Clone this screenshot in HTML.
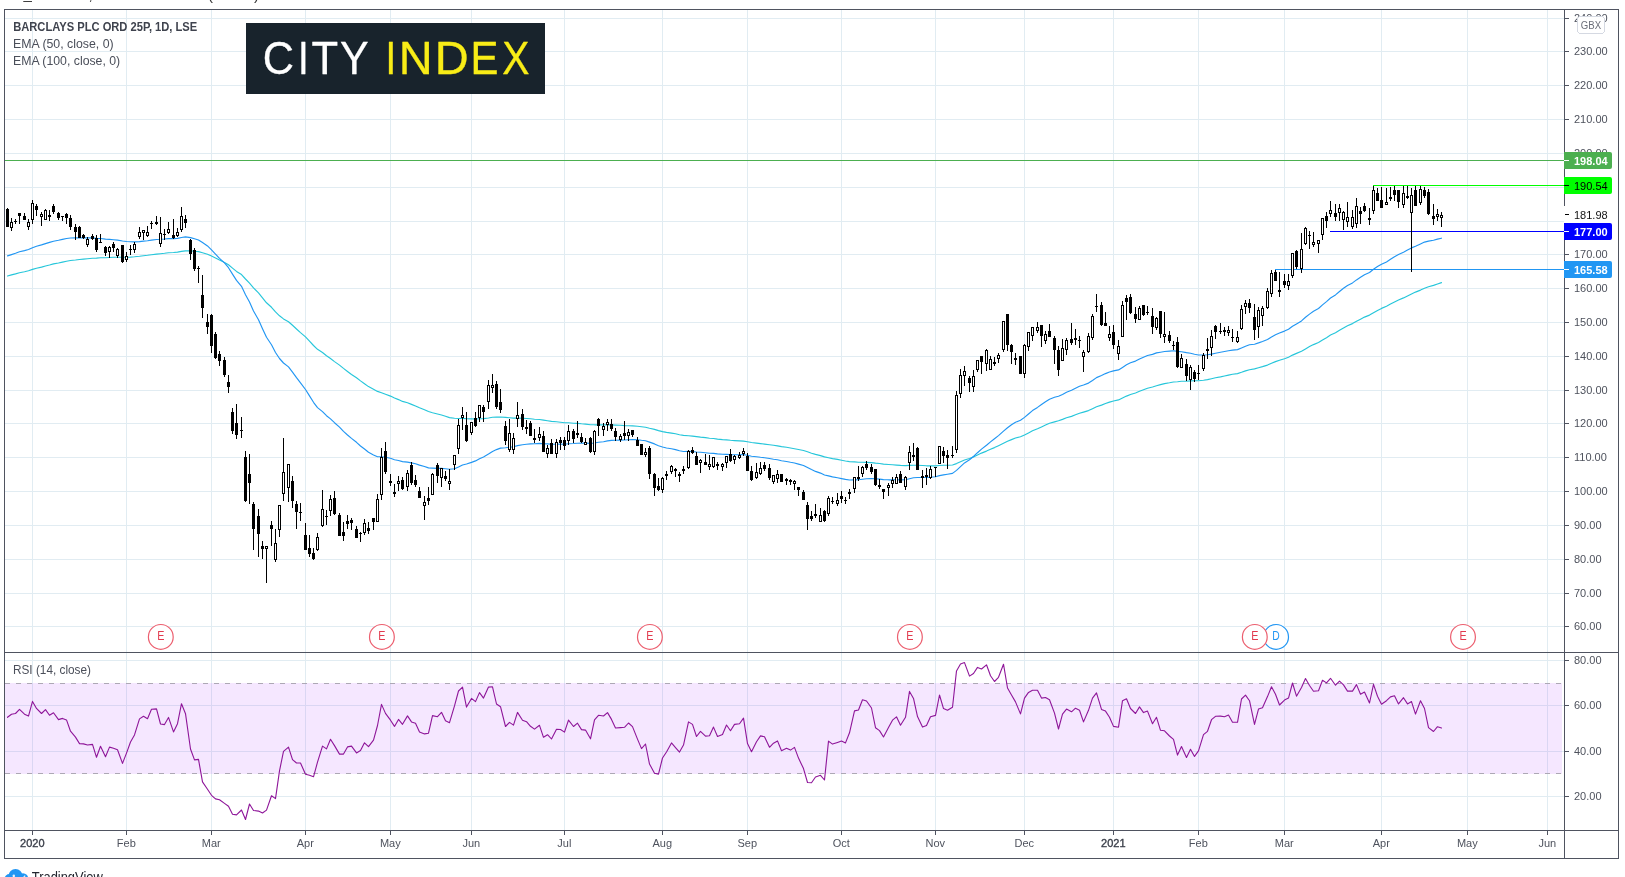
<!DOCTYPE html>
<html><head><meta charset="utf-8"><title>BARCLAYS PLC ORD 25P chart</title>
<style>html,body{margin:0;padding:0;background:#fff;}body{width:1625px;height:877px;overflow:hidden;font-family:"Liberation Sans", sans-serif;}svg{display:block;will-change:transform}rect{shape-rendering:crispEdges}</style>
</head><body>
<svg width="1625" height="877" viewBox="0 0 1625 877" font-family='"Liberation Sans", sans-serif' shape-rendering="auto"><rect x="0" y="0" width="1625" height="877" fill="#fff"/>
<rect x="32" y="10" width="1" height="820" fill="#E1ECF2"/>
<rect x="126" y="10" width="1" height="820" fill="#E1ECF2"/>
<rect x="211" y="10" width="1" height="820" fill="#E1ECF2"/>
<rect x="305" y="10" width="1" height="820" fill="#E1ECF2"/>
<rect x="390" y="10" width="1" height="820" fill="#E1ECF2"/>
<rect x="471" y="10" width="1" height="820" fill="#E1ECF2"/>
<rect x="564" y="10" width="1" height="820" fill="#E1ECF2"/>
<rect x="662" y="10" width="1" height="820" fill="#E1ECF2"/>
<rect x="747" y="10" width="1" height="820" fill="#E1ECF2"/>
<rect x="841" y="10" width="1" height="820" fill="#E1ECF2"/>
<rect x="935" y="10" width="1" height="820" fill="#E1ECF2"/>
<rect x="1024" y="10" width="1" height="820" fill="#E1ECF2"/>
<rect x="1113" y="10" width="1" height="820" fill="#E1ECF2"/>
<rect x="1198" y="10" width="1" height="820" fill="#E1ECF2"/>
<rect x="1284" y="10" width="1" height="820" fill="#E1ECF2"/>
<rect x="1381" y="10" width="1" height="820" fill="#E1ECF2"/>
<rect x="1467" y="10" width="1" height="820" fill="#E1ECF2"/>
<rect x="1547" y="10" width="1" height="820" fill="#E1ECF2"/>
<rect x="5" y="18" width="1559" height="1" fill="#E1ECF2"/>
<rect x="5" y="51" width="1559" height="1" fill="#E1ECF2"/>
<rect x="5" y="85" width="1559" height="1" fill="#E1ECF2"/>
<rect x="5" y="119" width="1559" height="1" fill="#E1ECF2"/>
<rect x="5" y="153" width="1559" height="1" fill="#E1ECF2"/>
<rect x="5" y="187" width="1559" height="1" fill="#E1ECF2"/>
<rect x="5" y="221" width="1559" height="1" fill="#E1ECF2"/>
<rect x="5" y="254" width="1559" height="1" fill="#E1ECF2"/>
<rect x="5" y="288" width="1559" height="1" fill="#E1ECF2"/>
<rect x="5" y="322" width="1559" height="1" fill="#E1ECF2"/>
<rect x="5" y="356" width="1559" height="1" fill="#E1ECF2"/>
<rect x="5" y="390" width="1559" height="1" fill="#E1ECF2"/>
<rect x="5" y="423" width="1559" height="1" fill="#E1ECF2"/>
<rect x="5" y="457" width="1559" height="1" fill="#E1ECF2"/>
<rect x="5" y="491" width="1559" height="1" fill="#E1ECF2"/>
<rect x="5" y="525" width="1559" height="1" fill="#E1ECF2"/>
<rect x="5" y="559" width="1559" height="1" fill="#E1ECF2"/>
<rect x="5" y="593" width="1559" height="1" fill="#E1ECF2"/>
<rect x="5" y="626" width="1559" height="1" fill="#E1ECF2"/>
<rect x="5" y="660" width="1559" height="1" fill="#E1ECF2"/>
<rect x="5" y="705" width="1559" height="1" fill="#E1ECF2"/>
<rect x="5" y="751" width="1559" height="1" fill="#E1ECF2"/>
<rect x="5" y="796" width="1559" height="1" fill="#E1ECF2"/>
<rect x="5" y="683" width="1557" height="91" fill="#9915FF" fill-opacity="0.1"/>
<line x1="5" y1="683.5" x2="1562" y2="683.5" stroke="#ADA8B5" stroke-width="1" stroke-dasharray="5,6" shape-rendering="crispEdges"/>
<line x1="5" y1="773.5" x2="1562" y2="773.5" stroke="#ADA8B5" stroke-width="1" stroke-dasharray="5,6" shape-rendering="crispEdges"/>
<rect x="246" y="23" width="299" height="70.5" fill="#18232C"/>
<rect x="5" y="160" width="1559" height="1" fill="#4CAF50"/>
<rect x="1373" y="185" width="191" height="1" fill="#00FF00"/>
<rect x="1330" y="231" width="234" height="1" fill="#0000FF"/>
<rect x="1275" y="269" width="289" height="1" fill="#2196F3"/>
<polyline points="7.5,276.0 11.5,274.9 15.5,273.9 19.5,272.7 24.5,271.7 28.5,270.7 32.5,269.4 36.5,268.2 41.5,267.1 45.5,266.0 49.5,265.0 53.5,263.9 58.5,263.0 62.5,262.1 66.5,261.2 70.5,260.5 75.5,260.0 79.5,259.5 83.5,259.1 87.5,258.7 92.5,258.3 96.5,258.1 100.5,257.8 105.5,257.7 109.5,257.5 113.5,257.3 117.5,257.2 122.5,257.3 126.5,257.2 130.5,257.1 134.5,256.8 139.5,256.3 143.5,255.8 147.5,255.3 151.5,254.7 156.5,254.1 160.5,253.7 164.5,253.3 168.5,252.8 173.5,252.5 177.5,252.1 181.5,251.4 185.5,250.9 190.5,250.9 194.5,251.3 198.5,251.6 202.5,252.7 207.5,254.2 211.5,256.0 215.5,258.0 219.5,260.1 224.5,262.4 228.5,264.8 232.5,268.1 236.5,271.4 241.5,274.6 245.5,279.0 249.5,283.1 253.5,287.9 258.5,292.8 262.5,297.9 266.5,302.8 271.5,307.3 275.5,311.9 279.5,315.8 283.5,318.9 288.5,321.7 292.5,325.3 296.5,329.0 300.5,332.6 305.5,336.9 309.5,341.2 313.5,345.5 317.5,349.3 322.5,352.5 326.5,355.7 330.5,358.5 334.5,361.6 339.5,365.1 343.5,368.4 347.5,371.5 351.5,374.5 356.5,377.8 360.5,380.9 364.5,383.7 368.5,386.6 373.5,389.3 377.5,391.4 381.5,392.8 385.5,394.3 390.5,396.1 394.5,398.0 398.5,399.6 402.5,401.4 407.5,402.8 411.5,404.4 415.5,406.0 419.5,407.8 424.5,409.7 428.5,411.5 432.5,412.7 437.5,414.0 441.5,415.0 445.5,416.3 449.5,417.6 454.5,418.3 458.5,418.5 462.5,418.4 466.5,418.8 471.5,418.9 475.5,419.0 479.5,418.8 483.5,418.6 488.5,418.0 492.5,417.3 496.5,417.1 500.5,417.0 505.5,417.4 509.5,417.7 513.5,418.1 517.5,418.1 522.5,418.2 526.5,418.5 530.5,418.8 534.5,419.2 539.5,419.5 543.5,420.1 547.5,420.7 551.5,421.4 556.5,421.8 560.5,422.2 564.5,422.7 568.5,422.8 573.5,423.2 577.5,423.4 581.5,423.8 585.5,424.1 590.5,424.7 594.5,424.8 598.5,424.8 603.5,424.9 607.5,424.8 611.5,424.9 615.5,425.1 620.5,425.3 624.5,425.6 628.5,425.7 632.5,425.9 637.5,426.3 641.5,426.8 645.5,427.3 649.5,428.3 654.5,429.4 658.5,430.6 662.5,431.6 666.5,432.4 671.5,433.1 675.5,433.8 679.5,434.7 683.5,435.4 688.5,435.7 692.5,436.1 696.5,436.6 700.5,437.1 705.5,437.6 709.5,438.2 713.5,438.5 717.5,439.1 722.5,439.6 726.5,439.9 730.5,440.3 734.5,440.6 739.5,440.9 743.5,441.1 747.5,441.7 751.5,442.5 756.5,443.1 760.5,443.6 764.5,444.1 769.5,444.7 773.5,445.3 777.5,445.9 781.5,446.6 786.5,447.3 790.5,448.0 794.5,448.7 798.5,449.5 803.5,450.5 807.5,451.8 811.5,453.2 815.5,454.4 820.5,455.6 824.5,456.9 828.5,457.7 832.5,458.6 837.5,459.4 841.5,460.2 845.5,461.0 849.5,461.6 854.5,461.9 858.5,462.2 862.5,462.3 866.5,462.4 871.5,462.6 875.5,463.1 879.5,463.5 883.5,464.1 888.5,464.5 892.5,464.8 896.5,465.1 900.5,465.4 905.5,465.6 909.5,465.4 913.5,465.2 917.5,465.3 922.5,465.5 926.5,465.8 930.5,465.8 935.5,465.9 939.5,465.5 943.5,465.3 947.5,465.2 952.5,465.0 956.5,463.6 960.5,461.8 964.5,460.0 969.5,458.5 973.5,456.9 977.5,455.0 981.5,453.1 986.5,451.1 990.5,449.3 994.5,447.6 998.5,445.7 1003.5,443.3 1007.5,441.3 1011.5,439.6 1015.5,438.0 1020.5,436.7 1024.5,434.9 1028.5,432.9 1032.5,430.8 1037.5,428.7 1041.5,426.9 1045.5,425.1 1049.5,423.3 1054.5,421.9 1058.5,420.8 1062.5,419.4 1066.5,417.8 1071.5,416.4 1075.5,414.8 1079.5,413.3 1083.5,412.1 1088.5,410.6 1092.5,408.7 1096.5,406.7 1101.5,405.1 1105.5,403.5 1109.5,402.1 1113.5,401.0 1118.5,399.9 1122.5,398.0 1126.5,396.1 1130.5,394.5 1135.5,393.0 1139.5,391.3 1143.5,389.8 1147.5,388.2 1152.5,387.0 1156.5,385.7 1160.5,384.6 1164.5,383.6 1169.5,382.8 1173.5,382.0 1177.5,381.7 1181.5,381.3 1186.5,381.2 1190.5,380.9 1194.5,380.8 1198.5,380.7 1203.5,380.2 1207.5,379.6 1211.5,378.7 1215.5,377.8 1220.5,376.9 1224.5,376.0 1228.5,375.1 1232.5,374.3 1237.5,373.6 1241.5,372.3 1245.5,370.9 1249.5,369.7 1254.5,368.9 1258.5,367.7 1262.5,366.6 1267.5,365.1 1271.5,363.2 1275.5,361.6 1279.5,360.2 1284.5,358.7 1288.5,357.2 1292.5,355.1 1296.5,353.4 1301.5,351.3 1305.5,348.9 1309.5,346.6 1313.5,344.6 1318.5,342.5 1322.5,340.0 1326.5,337.7 1330.5,335.1 1335.5,332.8 1339.5,330.3 1343.5,328.0 1347.5,325.8 1352.5,323.6 1356.5,321.3 1360.5,319.2 1364.5,317.1 1369.5,315.1 1373.5,312.7 1377.5,310.4 1381.5,308.4 1386.5,306.3 1390.5,304.1 1394.5,302.0 1398.5,300.0 1403.5,297.9 1407.5,295.9 1411.5,293.9 1415.5,292.1 1420.5,290.1 1424.5,288.2 1428.5,286.8 1433.5,285.4 1437.5,284.0 1441.5,282.6" fill="none" stroke="#26C6DA" stroke-width="1.15" stroke-linejoin="round" stroke-linecap="round"/>
<polyline points="7.5,255.9 11.5,254.6 15.5,253.3 19.5,251.8 24.5,250.6 28.5,249.5 32.5,247.7 36.5,246.2 41.5,244.9 45.5,243.6 49.5,242.4 53.5,241.2 58.5,240.3 62.5,239.4 66.5,238.5 70.5,238.0 75.5,237.8 79.5,237.8 83.5,237.8 87.5,237.9 92.5,237.9 96.5,238.4 100.5,238.5 105.5,239.1 109.5,239.4 113.5,239.7 117.5,240.1 122.5,241.0 126.5,241.5 130.5,241.8 134.5,241.9 139.5,241.6 143.5,241.1 147.5,240.8 151.5,240.1 156.5,239.5 160.5,239.3 164.5,239.0 168.5,238.6 173.5,238.6 177.5,238.4 181.5,237.5 185.5,236.9 190.5,237.6 194.5,238.8 198.5,240.0 202.5,242.6 207.5,245.9 211.5,249.8 215.5,254.1 219.5,258.3 224.5,262.9 228.5,267.7 232.5,274.1 236.5,280.4 241.5,286.3 245.5,294.7 249.5,302.1 253.5,311.0 258.5,319.7 262.5,328.7 266.5,337.2 271.5,344.7 275.5,352.5 279.5,358.5 283.5,363.0 288.5,366.9 292.5,372.2 296.5,377.7 300.5,382.9 305.5,389.5 309.5,395.9 313.5,402.3 317.5,407.6 322.5,411.6 326.5,415.7 330.5,418.9 334.5,422.7 339.5,427.1 343.5,431.4 347.5,435.0 351.5,438.4 356.5,442.3 360.5,446.0 364.5,449.0 368.5,452.2 373.5,454.9 377.5,456.7 381.5,456.7 385.5,457.3 390.5,458.3 394.5,459.7 398.5,460.5 402.5,461.6 407.5,462.1 411.5,462.9 415.5,463.7 419.5,465.1 424.5,466.5 428.5,467.9 432.5,468.1 437.5,468.4 441.5,468.4 445.5,468.8 449.5,469.3 454.5,468.7 458.5,467.0 462.5,465.0 466.5,464.0 471.5,462.4 475.5,460.9 479.5,458.7 483.5,456.9 488.5,454.1 492.5,451.4 496.5,449.6 500.5,448.1 505.5,447.8 509.5,447.2 513.5,446.8 517.5,445.6 522.5,444.8 526.5,444.2 530.5,443.9 534.5,443.7 539.5,443.4 543.5,443.7 547.5,443.9 551.5,444.3 556.5,444.2 560.5,444.1 564.5,444.2 568.5,443.7 573.5,443.5 577.5,443.2 581.5,443.1 585.5,443.1 590.5,443.4 594.5,443.0 598.5,442.3 603.5,441.7 607.5,440.9 611.5,440.4 615.5,440.3 620.5,440.1 624.5,440.0 628.5,439.7 632.5,439.5 637.5,439.7 641.5,440.3 645.5,440.8 649.5,442.1 654.5,443.9 658.5,445.7 662.5,447.0 666.5,448.0 671.5,448.7 675.5,449.6 679.5,450.7 683.5,451.5 688.5,451.4 692.5,451.5 696.5,452.0 700.5,452.3 705.5,452.8 709.5,453.3 713.5,453.4 717.5,453.9 722.5,454.3 726.5,454.4 730.5,454.6 734.5,454.7 739.5,454.7 743.5,454.6 747.5,455.2 751.5,456.2 756.5,456.8 760.5,457.3 764.5,457.7 769.5,458.5 773.5,459.2 777.5,459.8 781.5,460.7 786.5,461.5 790.5,462.3 794.5,463.0 798.5,464.1 803.5,465.5 807.5,467.6 811.5,469.6 815.5,471.4 820.5,473.1 824.5,475.0 828.5,475.9 832.5,476.9 837.5,477.8 841.5,478.6 845.5,479.4 849.5,480.0 854.5,479.9 858.5,479.8 862.5,479.3 866.5,478.8 871.5,478.6 875.5,478.8 879.5,479.1 883.5,479.6 888.5,479.8 892.5,479.8 896.5,479.7 900.5,479.9 905.5,479.7 909.5,478.7 913.5,477.8 917.5,477.5 922.5,477.5 926.5,477.5 930.5,477.2 935.5,476.8 939.5,475.6 943.5,474.9 947.5,474.2 952.5,473.4 956.5,470.4 960.5,466.6 964.5,462.9 969.5,459.7 973.5,456.5 977.5,452.7 981.5,449.1 986.5,445.3 990.5,441.9 994.5,438.8 998.5,435.6 1003.5,431.1 1007.5,427.7 1011.5,424.7 1015.5,422.2 1020.5,420.3 1024.5,417.4 1028.5,414.0 1032.5,410.6 1037.5,407.4 1041.5,404.5 1045.5,401.8 1049.5,399.2 1054.5,397.3 1058.5,396.2 1062.5,394.4 1066.5,392.2 1071.5,390.3 1075.5,388.2 1079.5,386.3 1083.5,385.0 1088.5,383.1 1092.5,380.5 1096.5,377.6 1101.5,375.5 1105.5,373.6 1109.5,372.0 1113.5,370.9 1118.5,369.9 1122.5,367.4 1126.5,364.8 1130.5,362.8 1135.5,361.1 1139.5,359.0 1143.5,357.2 1147.5,355.5 1152.5,354.4 1156.5,352.9 1160.5,352.2 1164.5,351.5 1169.5,351.1 1173.5,350.8 1177.5,351.4 1181.5,351.7 1186.5,352.6 1190.5,353.2 1194.5,354.2 1198.5,355.0 1203.5,355.0 1207.5,354.8 1211.5,354.1 1215.5,353.2 1220.5,352.3 1224.5,351.5 1228.5,350.7 1232.5,350.1 1237.5,349.6 1241.5,348.0 1245.5,346.3 1249.5,344.8 1254.5,344.2 1258.5,342.9 1262.5,341.5 1267.5,339.5 1271.5,336.9 1275.5,334.7 1279.5,333.0 1284.5,331.1 1288.5,329.2 1292.5,326.2 1296.5,323.9 1301.5,320.9 1305.5,317.3 1309.5,314.1 1313.5,311.2 1318.5,308.5 1322.5,304.9 1326.5,301.6 1330.5,298.0 1335.5,294.9 1339.5,291.5 1343.5,288.3 1347.5,285.5 1352.5,282.9 1356.5,279.9 1360.5,277.3 1364.5,274.7 1369.5,272.5 1373.5,269.3 1377.5,266.6 1381.5,264.3 1386.5,261.9 1390.5,259.3 1394.5,256.8 1398.5,254.6 1403.5,252.2 1407.5,250.1 1411.5,247.9 1415.5,246.3 1420.5,244.0 1424.5,242.1 1428.5,241.1 1433.5,240.2 1437.5,239.1 1441.5,238.2" fill="none" stroke="#2196F3" stroke-width="1.15" stroke-linejoin="round" stroke-linecap="round"/>
<rect x="7" y="208" width="1" height="19" fill="#000"/>
<rect x="6" y="209" width="3" height="18" fill="#000"/>
<rect x="11" y="218" width="1" height="13" fill="#000"/>
<rect x="10" y="222" width="3" height="6" fill="#000"/>
<rect x="11" y="223" width="1" height="4" fill="#fff"/>
<rect x="15" y="219" width="1" height="5" fill="#000"/>
<rect x="14" y="221" width="3" height="1" fill="#000"/>
<rect x="19" y="213" width="1" height="11" fill="#000"/>
<rect x="18" y="213" width="3" height="3" fill="#000"/>
<rect x="24" y="213" width="1" height="7" fill="#000"/>
<rect x="23" y="216" width="3" height="4" fill="#000"/>
<rect x="28" y="219" width="1" height="11" fill="#000"/>
<rect x="27" y="222" width="3" height="5" fill="#000"/>
<rect x="28" y="223" width="1" height="3" fill="#fff"/>
<rect x="32" y="200" width="1" height="24" fill="#000"/>
<rect x="31" y="203" width="3" height="17" fill="#000"/>
<rect x="32" y="204" width="1" height="15" fill="#fff"/>
<rect x="36" y="204" width="1" height="12" fill="#000"/>
<rect x="35" y="206" width="3" height="4" fill="#000"/>
<rect x="41" y="212" width="1" height="14" fill="#000"/>
<rect x="40" y="214" width="3" height="3" fill="#000"/>
<rect x="41" y="215" width="1" height="1" fill="#fff"/>
<rect x="45" y="209" width="1" height="11" fill="#000"/>
<rect x="44" y="210" width="3" height="10" fill="#000"/>
<rect x="45" y="211" width="1" height="8" fill="#fff"/>
<rect x="49" y="210" width="1" height="11" fill="#000"/>
<rect x="48" y="215" width="3" height="2" fill="#000"/>
<rect x="53" y="204" width="1" height="10" fill="#000"/>
<rect x="52" y="206" width="3" height="6" fill="#000"/>
<rect x="58" y="212" width="1" height="8" fill="#000"/>
<rect x="57" y="213" width="3" height="5" fill="#000"/>
<rect x="62" y="216" width="1" height="5" fill="#000"/>
<rect x="61" y="216" width="3" height="1" fill="#000"/>
<rect x="66" y="213" width="1" height="11" fill="#000"/>
<rect x="65" y="214" width="3" height="4" fill="#000"/>
<rect x="70" y="215" width="1" height="15" fill="#000"/>
<rect x="69" y="218" width="3" height="9" fill="#000"/>
<rect x="75" y="224" width="1" height="16" fill="#000"/>
<rect x="74" y="227" width="3" height="5" fill="#000"/>
<rect x="79" y="226" width="1" height="12" fill="#000"/>
<rect x="78" y="227" width="3" height="11" fill="#000"/>
<rect x="83" y="234" width="1" height="5" fill="#000"/>
<rect x="82" y="235" width="3" height="3" fill="#000"/>
<rect x="87" y="237" width="1" height="10" fill="#000"/>
<rect x="86" y="239" width="3" height="6" fill="#000"/>
<rect x="87" y="240" width="1" height="4" fill="#fff"/>
<rect x="92" y="234" width="1" height="6" fill="#000"/>
<rect x="91" y="236" width="3" height="3" fill="#000"/>
<rect x="96" y="235" width="1" height="17" fill="#000"/>
<rect x="95" y="238" width="3" height="12" fill="#000"/>
<rect x="100" y="234" width="1" height="9" fill="#000"/>
<rect x="99" y="242" width="3" height="1" fill="#000"/>
<rect x="105" y="246" width="1" height="10" fill="#000"/>
<rect x="104" y="247" width="3" height="6" fill="#000"/>
<rect x="109" y="246" width="1" height="12" fill="#000"/>
<rect x="108" y="247" width="3" height="5" fill="#000"/>
<rect x="109" y="248" width="1" height="3" fill="#fff"/>
<rect x="113" y="242" width="1" height="10" fill="#000"/>
<rect x="112" y="244" width="3" height="4" fill="#000"/>
<rect x="117" y="248" width="1" height="10" fill="#000"/>
<rect x="116" y="249" width="3" height="7" fill="#000"/>
<rect x="117" y="250" width="1" height="5" fill="#fff"/>
<rect x="122" y="245" width="1" height="18" fill="#000"/>
<rect x="121" y="245" width="3" height="17" fill="#000"/>
<rect x="126" y="252" width="1" height="10" fill="#000"/>
<rect x="125" y="256" width="3" height="4" fill="#000"/>
<rect x="126" y="257" width="1" height="2" fill="#fff"/>
<rect x="130" y="245" width="1" height="10" fill="#000"/>
<rect x="129" y="249" width="3" height="1" fill="#000"/>
<rect x="134" y="242" width="1" height="11" fill="#000"/>
<rect x="133" y="244" width="3" height="6" fill="#000"/>
<rect x="134" y="245" width="1" height="4" fill="#fff"/>
<rect x="139" y="227" width="1" height="12" fill="#000"/>
<rect x="138" y="232" width="3" height="5" fill="#000"/>
<rect x="139" y="233" width="1" height="3" fill="#fff"/>
<rect x="143" y="230" width="1" height="10" fill="#000"/>
<rect x="142" y="230" width="3" height="3" fill="#000"/>
<rect x="143" y="231" width="1" height="1" fill="#fff"/>
<rect x="147" y="226" width="1" height="11" fill="#000"/>
<rect x="146" y="232" width="3" height="4" fill="#000"/>
<rect x="147" y="233" width="1" height="2" fill="#fff"/>
<rect x="151" y="221" width="1" height="8" fill="#000"/>
<rect x="150" y="223" width="3" height="1" fill="#000"/>
<rect x="156" y="216" width="1" height="9" fill="#000"/>
<rect x="155" y="222" width="3" height="2" fill="#000"/>
<rect x="160" y="217" width="1" height="30" fill="#000"/>
<rect x="159" y="233" width="3" height="11" fill="#000"/>
<rect x="160" y="234" width="1" height="9" fill="#fff"/>
<rect x="164" y="229" width="1" height="11" fill="#000"/>
<rect x="163" y="234" width="3" height="1" fill="#000"/>
<rect x="168" y="222" width="1" height="12" fill="#000"/>
<rect x="167" y="229" width="3" height="4" fill="#000"/>
<rect x="168" y="230" width="1" height="2" fill="#fff"/>
<rect x="173" y="219" width="1" height="20" fill="#000"/>
<rect x="172" y="235" width="3" height="3" fill="#000"/>
<rect x="177" y="228" width="1" height="9" fill="#000"/>
<rect x="176" y="232" width="3" height="4" fill="#000"/>
<rect x="177" y="233" width="1" height="2" fill="#fff"/>
<rect x="181" y="207" width="1" height="25" fill="#000"/>
<rect x="180" y="216" width="3" height="14" fill="#000"/>
<rect x="181" y="217" width="1" height="12" fill="#fff"/>
<rect x="185" y="215" width="1" height="13" fill="#000"/>
<rect x="184" y="219" width="3" height="4" fill="#000"/>
<rect x="190" y="239" width="1" height="21" fill="#000"/>
<rect x="189" y="240" width="3" height="14" fill="#000"/>
<rect x="194" y="248" width="1" height="23" fill="#000"/>
<rect x="193" y="250" width="3" height="19" fill="#000"/>
<rect x="198" y="266" width="1" height="17" fill="#000"/>
<rect x="197" y="268" width="3" height="1" fill="#000"/>
<rect x="202" y="275" width="1" height="43" fill="#000"/>
<rect x="201" y="295" width="3" height="13" fill="#000"/>
<rect x="207" y="314" width="1" height="20" fill="#000"/>
<rect x="206" y="322" width="3" height="5" fill="#000"/>
<rect x="211" y="314" width="1" height="39" fill="#000"/>
<rect x="210" y="315" width="3" height="31" fill="#000"/>
<rect x="215" y="332" width="1" height="27" fill="#000"/>
<rect x="214" y="334" width="3" height="24" fill="#000"/>
<rect x="219" y="351" width="1" height="15" fill="#000"/>
<rect x="218" y="354" width="3" height="7" fill="#000"/>
<rect x="224" y="357" width="1" height="20" fill="#000"/>
<rect x="223" y="360" width="3" height="15" fill="#000"/>
<rect x="228" y="375" width="1" height="18" fill="#000"/>
<rect x="227" y="382" width="3" height="5" fill="#000"/>
<rect x="232" y="408" width="1" height="26" fill="#000"/>
<rect x="231" y="412" width="3" height="19" fill="#000"/>
<rect x="236" y="404" width="1" height="35" fill="#000"/>
<rect x="235" y="423" width="3" height="12" fill="#000"/>
<rect x="241" y="417" width="1" height="21" fill="#000"/>
<rect x="240" y="430" width="3" height="1" fill="#000"/>
<rect x="245" y="451" width="1" height="51" fill="#000"/>
<rect x="244" y="457" width="3" height="44" fill="#000"/>
<rect x="249" y="454" width="1" height="50" fill="#000"/>
<rect x="248" y="474" width="3" height="9" fill="#000"/>
<rect x="253" y="502" width="1" height="48" fill="#000"/>
<rect x="252" y="504" width="3" height="25" fill="#000"/>
<rect x="258" y="509" width="1" height="48" fill="#000"/>
<rect x="257" y="516" width="3" height="18" fill="#000"/>
<rect x="262" y="541" width="1" height="18" fill="#000"/>
<rect x="261" y="546" width="3" height="3" fill="#000"/>
<rect x="266" y="546" width="1" height="37" fill="#000"/>
<rect x="265" y="546" width="3" height="3" fill="#000"/>
<rect x="266" y="547" width="1" height="1" fill="#fff"/>
<rect x="271" y="521" width="1" height="25" fill="#000"/>
<rect x="270" y="525" width="3" height="4" fill="#000"/>
<rect x="275" y="529" width="1" height="33" fill="#000"/>
<rect x="274" y="543" width="3" height="17" fill="#000"/>
<rect x="275" y="544" width="1" height="15" fill="#fff"/>
<rect x="279" y="505" width="1" height="32" fill="#000"/>
<rect x="278" y="505" width="3" height="25" fill="#000"/>
<rect x="279" y="506" width="1" height="23" fill="#fff"/>
<rect x="283" y="438" width="1" height="63" fill="#000"/>
<rect x="282" y="472" width="3" height="22" fill="#000"/>
<rect x="283" y="473" width="1" height="20" fill="#fff"/>
<rect x="288" y="464" width="1" height="38" fill="#000"/>
<rect x="287" y="464" width="3" height="24" fill="#000"/>
<rect x="288" y="465" width="1" height="22" fill="#fff"/>
<rect x="292" y="476" width="1" height="32" fill="#000"/>
<rect x="291" y="481" width="3" height="20" fill="#000"/>
<rect x="296" y="501" width="1" height="28" fill="#000"/>
<rect x="295" y="504" width="3" height="8" fill="#000"/>
<rect x="300" y="503" width="1" height="18" fill="#000"/>
<rect x="299" y="512" width="3" height="1" fill="#000"/>
<rect x="305" y="523" width="1" height="27" fill="#000"/>
<rect x="304" y="535" width="3" height="15" fill="#000"/>
<rect x="309" y="535" width="1" height="22" fill="#000"/>
<rect x="308" y="548" width="3" height="6" fill="#000"/>
<rect x="313" y="548" width="1" height="12" fill="#000"/>
<rect x="312" y="553" width="3" height="6" fill="#000"/>
<rect x="317" y="533" width="1" height="18" fill="#000"/>
<rect x="316" y="537" width="3" height="13" fill="#000"/>
<rect x="317" y="538" width="1" height="11" fill="#fff"/>
<rect x="322" y="490" width="1" height="37" fill="#000"/>
<rect x="321" y="509" width="3" height="17" fill="#000"/>
<rect x="322" y="510" width="1" height="15" fill="#fff"/>
<rect x="326" y="510" width="1" height="15" fill="#000"/>
<rect x="325" y="516" width="3" height="1" fill="#000"/>
<rect x="330" y="495" width="1" height="21" fill="#000"/>
<rect x="329" y="499" width="3" height="12" fill="#000"/>
<rect x="330" y="500" width="1" height="10" fill="#fff"/>
<rect x="334" y="491" width="1" height="24" fill="#000"/>
<rect x="333" y="498" width="3" height="16" fill="#000"/>
<rect x="339" y="513" width="1" height="23" fill="#000"/>
<rect x="338" y="515" width="3" height="21" fill="#000"/>
<rect x="343" y="522" width="1" height="19" fill="#000"/>
<rect x="342" y="532" width="3" height="4" fill="#000"/>
<rect x="347" y="515" width="1" height="14" fill="#000"/>
<rect x="346" y="521" width="3" height="3" fill="#000"/>
<rect x="351" y="518" width="1" height="12" fill="#000"/>
<rect x="350" y="520" width="3" height="3" fill="#000"/>
<rect x="356" y="526" width="1" height="12" fill="#000"/>
<rect x="355" y="529" width="3" height="9" fill="#000"/>
<rect x="360" y="532" width="1" height="10" fill="#000"/>
<rect x="359" y="533" width="3" height="1" fill="#000"/>
<rect x="364" y="519" width="1" height="16" fill="#000"/>
<rect x="363" y="523" width="3" height="10" fill="#000"/>
<rect x="364" y="524" width="1" height="8" fill="#fff"/>
<rect x="368" y="522" width="1" height="12" fill="#000"/>
<rect x="367" y="528" width="3" height="3" fill="#000"/>
<rect x="373" y="518" width="1" height="12" fill="#000"/>
<rect x="372" y="518" width="3" height="4" fill="#000"/>
<rect x="377" y="494" width="1" height="28" fill="#000"/>
<rect x="376" y="499" width="3" height="23" fill="#000"/>
<rect x="377" y="500" width="1" height="21" fill="#fff"/>
<rect x="381" y="448" width="1" height="52" fill="#000"/>
<rect x="380" y="457" width="3" height="38" fill="#000"/>
<rect x="381" y="458" width="1" height="36" fill="#fff"/>
<rect x="385" y="442" width="1" height="32" fill="#000"/>
<rect x="384" y="451" width="3" height="21" fill="#000"/>
<rect x="390" y="474" width="1" height="12" fill="#000"/>
<rect x="389" y="481" width="3" height="2" fill="#000"/>
<rect x="394" y="484" width="1" height="13" fill="#000"/>
<rect x="393" y="492" width="3" height="2" fill="#000"/>
<rect x="398" y="476" width="1" height="15" fill="#000"/>
<rect x="397" y="481" width="3" height="3" fill="#000"/>
<rect x="398" y="482" width="1" height="1" fill="#fff"/>
<rect x="402" y="477" width="1" height="13" fill="#000"/>
<rect x="401" y="480" width="3" height="9" fill="#000"/>
<rect x="407" y="470" width="1" height="21" fill="#000"/>
<rect x="406" y="473" width="3" height="14" fill="#000"/>
<rect x="407" y="474" width="1" height="12" fill="#fff"/>
<rect x="411" y="462" width="1" height="23" fill="#000"/>
<rect x="410" y="465" width="3" height="18" fill="#000"/>
<rect x="415" y="475" width="1" height="12" fill="#000"/>
<rect x="414" y="480" width="3" height="5" fill="#000"/>
<rect x="419" y="487" width="1" height="11" fill="#000"/>
<rect x="418" y="491" width="3" height="7" fill="#000"/>
<rect x="424" y="496" width="1" height="24" fill="#000"/>
<rect x="423" y="502" width="3" height="4" fill="#000"/>
<rect x="424" y="503" width="1" height="2" fill="#fff"/>
<rect x="428" y="487" width="1" height="18" fill="#000"/>
<rect x="427" y="498" width="3" height="3" fill="#000"/>
<rect x="432" y="473" width="1" height="22" fill="#000"/>
<rect x="431" y="474" width="3" height="21" fill="#000"/>
<rect x="432" y="475" width="1" height="19" fill="#fff"/>
<rect x="437" y="463" width="1" height="20" fill="#000"/>
<rect x="436" y="465" width="3" height="11" fill="#000"/>
<rect x="441" y="468" width="1" height="19" fill="#000"/>
<rect x="440" y="468" width="3" height="10" fill="#000"/>
<rect x="441" y="469" width="1" height="8" fill="#fff"/>
<rect x="445" y="471" width="1" height="10" fill="#000"/>
<rect x="444" y="476" width="3" height="3" fill="#000"/>
<rect x="449" y="469" width="1" height="21" fill="#000"/>
<rect x="448" y="481" width="3" height="3" fill="#000"/>
<rect x="449" y="482" width="1" height="1" fill="#fff"/>
<rect x="454" y="455" width="1" height="15" fill="#000"/>
<rect x="453" y="455" width="3" height="10" fill="#000"/>
<rect x="454" y="456" width="1" height="8" fill="#fff"/>
<rect x="458" y="419" width="1" height="35" fill="#000"/>
<rect x="457" y="425" width="3" height="24" fill="#000"/>
<rect x="458" y="426" width="1" height="22" fill="#fff"/>
<rect x="462" y="407" width="1" height="23" fill="#000"/>
<rect x="461" y="415" width="3" height="3" fill="#000"/>
<rect x="462" y="416" width="1" height="1" fill="#fff"/>
<rect x="466" y="412" width="1" height="30" fill="#000"/>
<rect x="465" y="425" width="3" height="16" fill="#000"/>
<rect x="471" y="422" width="1" height="13" fill="#000"/>
<rect x="470" y="422" width="3" height="11" fill="#000"/>
<rect x="471" y="423" width="1" height="9" fill="#fff"/>
<rect x="475" y="412" width="1" height="15" fill="#000"/>
<rect x="474" y="418" width="3" height="8" fill="#000"/>
<rect x="479" y="405" width="1" height="17" fill="#000"/>
<rect x="478" y="405" width="3" height="13" fill="#000"/>
<rect x="479" y="406" width="1" height="11" fill="#fff"/>
<rect x="483" y="405" width="1" height="17" fill="#000"/>
<rect x="482" y="407" width="3" height="5" fill="#000"/>
<rect x="488" y="380" width="1" height="29" fill="#000"/>
<rect x="487" y="385" width="3" height="17" fill="#000"/>
<rect x="488" y="386" width="1" height="15" fill="#fff"/>
<rect x="492" y="374" width="1" height="19" fill="#000"/>
<rect x="491" y="385" width="3" height="3" fill="#000"/>
<rect x="492" y="386" width="1" height="1" fill="#fff"/>
<rect x="496" y="381" width="1" height="28" fill="#000"/>
<rect x="495" y="384" width="3" height="23" fill="#000"/>
<rect x="500" y="389" width="1" height="24" fill="#000"/>
<rect x="499" y="402" width="3" height="8" fill="#000"/>
<rect x="505" y="421" width="1" height="24" fill="#000"/>
<rect x="504" y="426" width="3" height="15" fill="#000"/>
<rect x="509" y="419" width="1" height="33" fill="#000"/>
<rect x="508" y="433" width="3" height="17" fill="#000"/>
<rect x="509" y="434" width="1" height="15" fill="#fff"/>
<rect x="513" y="433" width="1" height="21" fill="#000"/>
<rect x="512" y="438" width="3" height="12" fill="#000"/>
<rect x="513" y="439" width="1" height="10" fill="#fff"/>
<rect x="517" y="402" width="1" height="25" fill="#000"/>
<rect x="516" y="415" width="3" height="4" fill="#000"/>
<rect x="517" y="416" width="1" height="2" fill="#fff"/>
<rect x="522" y="409" width="1" height="21" fill="#000"/>
<rect x="521" y="414" width="3" height="13" fill="#000"/>
<rect x="526" y="420" width="1" height="14" fill="#000"/>
<rect x="525" y="427" width="3" height="2" fill="#000"/>
<rect x="530" y="421" width="1" height="15" fill="#000"/>
<rect x="529" y="423" width="3" height="13" fill="#000"/>
<rect x="534" y="429" width="1" height="14" fill="#000"/>
<rect x="533" y="438" width="3" height="2" fill="#000"/>
<rect x="539" y="427" width="1" height="14" fill="#000"/>
<rect x="538" y="434" width="3" height="4" fill="#000"/>
<rect x="539" y="435" width="1" height="2" fill="#fff"/>
<rect x="543" y="431" width="1" height="21" fill="#000"/>
<rect x="542" y="436" width="3" height="16" fill="#000"/>
<rect x="547" y="445" width="1" height="13" fill="#000"/>
<rect x="546" y="448" width="3" height="6" fill="#000"/>
<rect x="547" y="449" width="1" height="4" fill="#fff"/>
<rect x="551" y="439" width="1" height="15" fill="#000"/>
<rect x="550" y="443" width="3" height="11" fill="#000"/>
<rect x="556" y="439" width="1" height="19" fill="#000"/>
<rect x="555" y="442" width="3" height="12" fill="#000"/>
<rect x="556" y="443" width="1" height="10" fill="#fff"/>
<rect x="560" y="437" width="1" height="13" fill="#000"/>
<rect x="559" y="440" width="3" height="3" fill="#000"/>
<rect x="564" y="437" width="1" height="13" fill="#000"/>
<rect x="563" y="440" width="3" height="6" fill="#000"/>
<rect x="568" y="425" width="1" height="20" fill="#000"/>
<rect x="567" y="431" width="3" height="10" fill="#000"/>
<rect x="568" y="432" width="1" height="8" fill="#fff"/>
<rect x="573" y="429" width="1" height="14" fill="#000"/>
<rect x="572" y="431" width="3" height="8" fill="#000"/>
<rect x="577" y="421" width="1" height="17" fill="#000"/>
<rect x="576" y="433" width="3" height="2" fill="#000"/>
<rect x="581" y="433" width="1" height="10" fill="#000"/>
<rect x="580" y="437" width="3" height="5" fill="#000"/>
<rect x="585" y="438" width="1" height="7" fill="#000"/>
<rect x="584" y="442" width="3" height="3" fill="#000"/>
<rect x="585" y="443" width="1" height="1" fill="#fff"/>
<rect x="590" y="437" width="1" height="16" fill="#000"/>
<rect x="589" y="438" width="3" height="14" fill="#000"/>
<rect x="594" y="430" width="1" height="25" fill="#000"/>
<rect x="593" y="431" width="3" height="21" fill="#000"/>
<rect x="594" y="432" width="1" height="19" fill="#fff"/>
<rect x="598" y="418" width="1" height="18" fill="#000"/>
<rect x="597" y="419" width="3" height="7" fill="#000"/>
<rect x="603" y="423" width="1" height="13" fill="#000"/>
<rect x="602" y="426" width="3" height="4" fill="#000"/>
<rect x="603" y="427" width="1" height="2" fill="#fff"/>
<rect x="607" y="419" width="1" height="12" fill="#000"/>
<rect x="606" y="422" width="3" height="3" fill="#000"/>
<rect x="607" y="423" width="1" height="1" fill="#fff"/>
<rect x="611" y="419" width="1" height="12" fill="#000"/>
<rect x="610" y="424" width="3" height="5" fill="#000"/>
<rect x="615" y="428" width="1" height="13" fill="#000"/>
<rect x="614" y="431" width="3" height="6" fill="#000"/>
<rect x="620" y="434" width="1" height="8" fill="#000"/>
<rect x="619" y="436" width="3" height="4" fill="#000"/>
<rect x="620" y="437" width="1" height="2" fill="#fff"/>
<rect x="624" y="421" width="1" height="19" fill="#000"/>
<rect x="623" y="433" width="3" height="3" fill="#000"/>
<rect x="628" y="429" width="1" height="12" fill="#000"/>
<rect x="627" y="432" width="3" height="4" fill="#000"/>
<rect x="628" y="433" width="1" height="2" fill="#fff"/>
<rect x="632" y="430" width="1" height="7" fill="#000"/>
<rect x="631" y="430" width="3" height="5" fill="#000"/>
<rect x="637" y="437" width="1" height="9" fill="#000"/>
<rect x="636" y="440" width="3" height="6" fill="#000"/>
<rect x="641" y="444" width="1" height="11" fill="#000"/>
<rect x="640" y="444" width="3" height="11" fill="#000"/>
<rect x="645" y="448" width="1" height="9" fill="#000"/>
<rect x="644" y="452" width="3" height="3" fill="#000"/>
<rect x="645" y="453" width="1" height="1" fill="#fff"/>
<rect x="649" y="446" width="1" height="33" fill="#000"/>
<rect x="648" y="448" width="3" height="26" fill="#000"/>
<rect x="654" y="473" width="1" height="23" fill="#000"/>
<rect x="653" y="474" width="3" height="14" fill="#000"/>
<rect x="658" y="478" width="1" height="13" fill="#000"/>
<rect x="657" y="486" width="3" height="4" fill="#000"/>
<rect x="662" y="477" width="1" height="16" fill="#000"/>
<rect x="661" y="478" width="3" height="12" fill="#000"/>
<rect x="662" y="479" width="1" height="10" fill="#fff"/>
<rect x="666" y="471" width="1" height="9" fill="#000"/>
<rect x="665" y="474" width="3" height="2" fill="#000"/>
<rect x="671" y="465" width="1" height="9" fill="#000"/>
<rect x="670" y="466" width="3" height="6" fill="#000"/>
<rect x="671" y="467" width="1" height="4" fill="#fff"/>
<rect x="675" y="468" width="1" height="9" fill="#000"/>
<rect x="674" y="469" width="3" height="2" fill="#000"/>
<rect x="679" y="472" width="1" height="10" fill="#000"/>
<rect x="678" y="474" width="3" height="2" fill="#000"/>
<rect x="683" y="466" width="1" height="8" fill="#000"/>
<rect x="682" y="469" width="3" height="2" fill="#000"/>
<rect x="688" y="450" width="1" height="19" fill="#000"/>
<rect x="687" y="451" width="3" height="17" fill="#000"/>
<rect x="688" y="452" width="1" height="15" fill="#fff"/>
<rect x="692" y="447" width="1" height="7" fill="#000"/>
<rect x="691" y="450" width="3" height="3" fill="#000"/>
<rect x="696" y="452" width="1" height="13" fill="#000"/>
<rect x="695" y="456" width="3" height="9" fill="#000"/>
<rect x="700" y="459" width="1" height="14" fill="#000"/>
<rect x="699" y="460" width="3" height="3" fill="#000"/>
<rect x="700" y="461" width="1" height="1" fill="#fff"/>
<rect x="705" y="454" width="1" height="11" fill="#000"/>
<rect x="704" y="462" width="3" height="3" fill="#000"/>
<rect x="709" y="455" width="1" height="15" fill="#000"/>
<rect x="708" y="464" width="3" height="3" fill="#000"/>
<rect x="709" y="465" width="1" height="1" fill="#fff"/>
<rect x="713" y="457" width="1" height="11" fill="#000"/>
<rect x="712" y="457" width="3" height="10" fill="#000"/>
<rect x="713" y="458" width="1" height="8" fill="#fff"/>
<rect x="717" y="462" width="1" height="8" fill="#000"/>
<rect x="716" y="464" width="3" height="2" fill="#000"/>
<rect x="722" y="463" width="1" height="8" fill="#000"/>
<rect x="721" y="464" width="3" height="3" fill="#000"/>
<rect x="722" y="465" width="1" height="1" fill="#fff"/>
<rect x="726" y="456" width="1" height="12" fill="#000"/>
<rect x="725" y="456" width="3" height="7" fill="#000"/>
<rect x="726" y="457" width="1" height="5" fill="#fff"/>
<rect x="730" y="449" width="1" height="13" fill="#000"/>
<rect x="729" y="454" width="3" height="7" fill="#000"/>
<rect x="734" y="455" width="1" height="9" fill="#000"/>
<rect x="733" y="456" width="3" height="4" fill="#000"/>
<rect x="734" y="457" width="1" height="2" fill="#fff"/>
<rect x="739" y="452" width="1" height="7" fill="#000"/>
<rect x="738" y="455" width="3" height="3" fill="#000"/>
<rect x="739" y="456" width="1" height="1" fill="#fff"/>
<rect x="743" y="448" width="1" height="8" fill="#000"/>
<rect x="742" y="451" width="3" height="3" fill="#000"/>
<rect x="743" y="452" width="1" height="1" fill="#fff"/>
<rect x="747" y="453" width="1" height="18" fill="#000"/>
<rect x="746" y="456" width="3" height="15" fill="#000"/>
<rect x="751" y="466" width="1" height="15" fill="#000"/>
<rect x="750" y="471" width="3" height="9" fill="#000"/>
<rect x="756" y="463" width="1" height="16" fill="#000"/>
<rect x="755" y="472" width="3" height="6" fill="#000"/>
<rect x="756" y="473" width="1" height="4" fill="#fff"/>
<rect x="760" y="462" width="1" height="13" fill="#000"/>
<rect x="759" y="468" width="3" height="6" fill="#000"/>
<rect x="760" y="469" width="1" height="4" fill="#fff"/>
<rect x="764" y="462" width="1" height="9" fill="#000"/>
<rect x="763" y="465" width="3" height="4" fill="#000"/>
<rect x="769" y="464" width="1" height="16" fill="#000"/>
<rect x="768" y="468" width="3" height="10" fill="#000"/>
<rect x="773" y="475" width="1" height="9" fill="#000"/>
<rect x="772" y="475" width="3" height="7" fill="#000"/>
<rect x="773" y="476" width="1" height="5" fill="#fff"/>
<rect x="777" y="470" width="1" height="13" fill="#000"/>
<rect x="776" y="474" width="3" height="5" fill="#000"/>
<rect x="777" y="475" width="1" height="3" fill="#fff"/>
<rect x="781" y="474" width="1" height="8" fill="#000"/>
<rect x="780" y="474" width="3" height="8" fill="#000"/>
<rect x="786" y="478" width="1" height="7" fill="#000"/>
<rect x="785" y="479" width="3" height="2" fill="#000"/>
<rect x="790" y="479" width="1" height="6" fill="#000"/>
<rect x="789" y="480" width="3" height="2" fill="#000"/>
<rect x="794" y="480" width="1" height="10" fill="#000"/>
<rect x="793" y="481" width="3" height="3" fill="#000"/>
<rect x="794" y="482" width="1" height="1" fill="#fff"/>
<rect x="798" y="487" width="1" height="9" fill="#000"/>
<rect x="797" y="487" width="3" height="3" fill="#000"/>
<rect x="803" y="490" width="1" height="10" fill="#000"/>
<rect x="802" y="492" width="3" height="8" fill="#000"/>
<rect x="807" y="502" width="1" height="28" fill="#000"/>
<rect x="806" y="505" width="3" height="14" fill="#000"/>
<rect x="811" y="511" width="1" height="10" fill="#000"/>
<rect x="810" y="516" width="3" height="3" fill="#000"/>
<rect x="815" y="504" width="1" height="14" fill="#000"/>
<rect x="814" y="514" width="3" height="2" fill="#000"/>
<rect x="820" y="508" width="1" height="14" fill="#000"/>
<rect x="819" y="515" width="3" height="7" fill="#000"/>
<rect x="820" y="516" width="1" height="5" fill="#fff"/>
<rect x="824" y="510" width="1" height="12" fill="#000"/>
<rect x="823" y="511" width="3" height="10" fill="#000"/>
<rect x="828" y="496" width="1" height="20" fill="#000"/>
<rect x="827" y="498" width="3" height="16" fill="#000"/>
<rect x="828" y="499" width="1" height="14" fill="#fff"/>
<rect x="832" y="497" width="1" height="7" fill="#000"/>
<rect x="831" y="501" width="3" height="1" fill="#000"/>
<rect x="837" y="493" width="1" height="13" fill="#000"/>
<rect x="836" y="500" width="3" height="4" fill="#000"/>
<rect x="837" y="501" width="1" height="2" fill="#fff"/>
<rect x="841" y="491" width="1" height="12" fill="#000"/>
<rect x="840" y="496" width="3" height="3" fill="#000"/>
<rect x="845" y="497" width="1" height="7" fill="#000"/>
<rect x="844" y="500" width="3" height="1" fill="#000"/>
<rect x="849" y="489" width="1" height="10" fill="#000"/>
<rect x="848" y="492" width="3" height="2" fill="#000"/>
<rect x="854" y="477" width="1" height="16" fill="#000"/>
<rect x="853" y="477" width="3" height="12" fill="#000"/>
<rect x="854" y="478" width="1" height="10" fill="#fff"/>
<rect x="858" y="466" width="1" height="15" fill="#000"/>
<rect x="857" y="477" width="3" height="2" fill="#000"/>
<rect x="862" y="466" width="1" height="11" fill="#000"/>
<rect x="861" y="467" width="3" height="7" fill="#000"/>
<rect x="862" y="468" width="1" height="5" fill="#fff"/>
<rect x="866" y="461" width="1" height="9" fill="#000"/>
<rect x="865" y="464" width="3" height="4" fill="#000"/>
<rect x="871" y="464" width="1" height="10" fill="#000"/>
<rect x="870" y="467" width="3" height="5" fill="#000"/>
<rect x="875" y="469" width="1" height="17" fill="#000"/>
<rect x="874" y="469" width="3" height="16" fill="#000"/>
<rect x="879" y="479" width="1" height="10" fill="#000"/>
<rect x="878" y="485" width="3" height="2" fill="#000"/>
<rect x="883" y="489" width="1" height="10" fill="#000"/>
<rect x="882" y="489" width="3" height="3" fill="#000"/>
<rect x="888" y="483" width="1" height="13" fill="#000"/>
<rect x="887" y="485" width="3" height="3" fill="#000"/>
<rect x="888" y="486" width="1" height="1" fill="#fff"/>
<rect x="892" y="477" width="1" height="11" fill="#000"/>
<rect x="891" y="480" width="3" height="4" fill="#000"/>
<rect x="892" y="481" width="1" height="2" fill="#fff"/>
<rect x="896" y="474" width="1" height="10" fill="#000"/>
<rect x="895" y="477" width="3" height="7" fill="#000"/>
<rect x="896" y="478" width="1" height="5" fill="#fff"/>
<rect x="900" y="471" width="1" height="12" fill="#000"/>
<rect x="899" y="474" width="3" height="9" fill="#000"/>
<rect x="905" y="476" width="1" height="14" fill="#000"/>
<rect x="904" y="477" width="3" height="10" fill="#000"/>
<rect x="905" y="478" width="1" height="8" fill="#fff"/>
<rect x="909" y="446" width="1" height="24" fill="#000"/>
<rect x="908" y="452" width="3" height="11" fill="#000"/>
<rect x="909" y="453" width="1" height="9" fill="#fff"/>
<rect x="913" y="443" width="1" height="18" fill="#000"/>
<rect x="912" y="455" width="3" height="2" fill="#000"/>
<rect x="917" y="447" width="1" height="23" fill="#000"/>
<rect x="916" y="448" width="3" height="22" fill="#000"/>
<rect x="922" y="470" width="1" height="18" fill="#000"/>
<rect x="921" y="476" width="3" height="2" fill="#000"/>
<rect x="926" y="468" width="1" height="17" fill="#000"/>
<rect x="925" y="475" width="3" height="2" fill="#000"/>
<rect x="930" y="466" width="1" height="13" fill="#000"/>
<rect x="929" y="469" width="3" height="9" fill="#000"/>
<rect x="930" y="470" width="1" height="7" fill="#fff"/>
<rect x="935" y="467" width="1" height="10" fill="#000"/>
<rect x="934" y="467" width="3" height="1" fill="#000"/>
<rect x="939" y="446" width="1" height="18" fill="#000"/>
<rect x="938" y="446" width="3" height="18" fill="#000"/>
<rect x="939" y="447" width="1" height="16" fill="#fff"/>
<rect x="943" y="447" width="1" height="16" fill="#000"/>
<rect x="942" y="451" width="3" height="5" fill="#000"/>
<rect x="947" y="450" width="1" height="19" fill="#000"/>
<rect x="946" y="455" width="3" height="3" fill="#000"/>
<rect x="952" y="446" width="1" height="12" fill="#000"/>
<rect x="951" y="455" width="3" height="1" fill="#000"/>
<rect x="956" y="391" width="1" height="62" fill="#000"/>
<rect x="955" y="395" width="3" height="55" fill="#000"/>
<rect x="956" y="396" width="1" height="53" fill="#fff"/>
<rect x="960" y="369" width="1" height="29" fill="#000"/>
<rect x="959" y="375" width="3" height="19" fill="#000"/>
<rect x="960" y="376" width="1" height="17" fill="#fff"/>
<rect x="964" y="366" width="1" height="20" fill="#000"/>
<rect x="963" y="371" width="3" height="5" fill="#000"/>
<rect x="964" y="372" width="1" height="3" fill="#fff"/>
<rect x="969" y="376" width="1" height="16" fill="#000"/>
<rect x="968" y="378" width="3" height="5" fill="#000"/>
<rect x="973" y="370" width="1" height="22" fill="#000"/>
<rect x="972" y="376" width="3" height="11" fill="#000"/>
<rect x="973" y="377" width="1" height="9" fill="#fff"/>
<rect x="977" y="360" width="1" height="12" fill="#000"/>
<rect x="976" y="360" width="3" height="10" fill="#000"/>
<rect x="977" y="361" width="1" height="8" fill="#fff"/>
<rect x="981" y="356" width="1" height="18" fill="#000"/>
<rect x="980" y="356" width="3" height="6" fill="#000"/>
<rect x="986" y="349" width="1" height="22" fill="#000"/>
<rect x="985" y="350" width="3" height="14" fill="#000"/>
<rect x="986" y="351" width="1" height="12" fill="#fff"/>
<rect x="990" y="356" width="1" height="14" fill="#000"/>
<rect x="989" y="359" width="3" height="11" fill="#000"/>
<rect x="990" y="360" width="1" height="9" fill="#fff"/>
<rect x="994" y="357" width="1" height="9" fill="#000"/>
<rect x="993" y="362" width="3" height="2" fill="#000"/>
<rect x="998" y="353" width="1" height="10" fill="#000"/>
<rect x="997" y="355" width="3" height="4" fill="#000"/>
<rect x="998" y="356" width="1" height="2" fill="#fff"/>
<rect x="1003" y="321" width="1" height="31" fill="#000"/>
<rect x="1002" y="321" width="3" height="29" fill="#000"/>
<rect x="1003" y="322" width="1" height="27" fill="#fff"/>
<rect x="1007" y="314" width="1" height="37" fill="#000"/>
<rect x="1006" y="314" width="3" height="31" fill="#000"/>
<rect x="1011" y="344" width="1" height="20" fill="#000"/>
<rect x="1010" y="345" width="3" height="7" fill="#000"/>
<rect x="1015" y="353" width="1" height="12" fill="#000"/>
<rect x="1014" y="358" width="3" height="2" fill="#000"/>
<rect x="1020" y="356" width="1" height="18" fill="#000"/>
<rect x="1019" y="356" width="3" height="18" fill="#000"/>
<rect x="1024" y="344" width="1" height="34" fill="#000"/>
<rect x="1023" y="345" width="3" height="29" fill="#000"/>
<rect x="1024" y="346" width="1" height="27" fill="#fff"/>
<rect x="1028" y="332" width="1" height="19" fill="#000"/>
<rect x="1027" y="332" width="3" height="15" fill="#000"/>
<rect x="1028" y="333" width="1" height="13" fill="#fff"/>
<rect x="1032" y="327" width="1" height="14" fill="#000"/>
<rect x="1031" y="327" width="3" height="9" fill="#000"/>
<rect x="1032" y="328" width="1" height="7" fill="#fff"/>
<rect x="1037" y="322" width="1" height="11" fill="#000"/>
<rect x="1036" y="327" width="3" height="4" fill="#000"/>
<rect x="1037" y="328" width="1" height="2" fill="#fff"/>
<rect x="1041" y="325" width="1" height="22" fill="#000"/>
<rect x="1040" y="325" width="3" height="11" fill="#000"/>
<rect x="1045" y="331" width="1" height="13" fill="#000"/>
<rect x="1044" y="334" width="3" height="7" fill="#000"/>
<rect x="1045" y="335" width="1" height="5" fill="#fff"/>
<rect x="1049" y="324" width="1" height="13" fill="#000"/>
<rect x="1048" y="331" width="3" height="6" fill="#000"/>
<rect x="1054" y="336" width="1" height="28" fill="#000"/>
<rect x="1053" y="338" width="3" height="12" fill="#000"/>
<rect x="1058" y="346" width="1" height="30" fill="#000"/>
<rect x="1057" y="350" width="3" height="20" fill="#000"/>
<rect x="1062" y="339" width="1" height="22" fill="#000"/>
<rect x="1061" y="348" width="3" height="13" fill="#000"/>
<rect x="1062" y="349" width="1" height="11" fill="#fff"/>
<rect x="1066" y="338" width="1" height="17" fill="#000"/>
<rect x="1065" y="340" width="3" height="10" fill="#000"/>
<rect x="1066" y="341" width="1" height="8" fill="#fff"/>
<rect x="1071" y="323" width="1" height="22" fill="#000"/>
<rect x="1070" y="339" width="3" height="4" fill="#000"/>
<rect x="1075" y="329" width="1" height="16" fill="#000"/>
<rect x="1074" y="338" width="3" height="2" fill="#000"/>
<rect x="1079" y="336" width="1" height="12" fill="#000"/>
<rect x="1078" y="340" width="3" height="1" fill="#000"/>
<rect x="1083" y="350" width="1" height="22" fill="#000"/>
<rect x="1082" y="352" width="3" height="5" fill="#000"/>
<rect x="1083" y="353" width="1" height="3" fill="#fff"/>
<rect x="1088" y="333" width="1" height="20" fill="#000"/>
<rect x="1087" y="336" width="3" height="16" fill="#000"/>
<rect x="1088" y="337" width="1" height="14" fill="#fff"/>
<rect x="1092" y="314" width="1" height="26" fill="#000"/>
<rect x="1091" y="316" width="3" height="22" fill="#000"/>
<rect x="1092" y="317" width="1" height="20" fill="#fff"/>
<rect x="1096" y="294" width="1" height="18" fill="#000"/>
<rect x="1095" y="306" width="3" height="1" fill="#000"/>
<rect x="1101" y="302" width="1" height="24" fill="#000"/>
<rect x="1100" y="305" width="3" height="20" fill="#000"/>
<rect x="1105" y="312" width="1" height="14" fill="#000"/>
<rect x="1104" y="323" width="3" height="3" fill="#000"/>
<rect x="1109" y="326" width="1" height="15" fill="#000"/>
<rect x="1108" y="334" width="3" height="4" fill="#000"/>
<rect x="1109" y="335" width="1" height="2" fill="#fff"/>
<rect x="1113" y="325" width="1" height="24" fill="#000"/>
<rect x="1112" y="332" width="3" height="13" fill="#000"/>
<rect x="1118" y="340" width="1" height="20" fill="#000"/>
<rect x="1117" y="346" width="3" height="8" fill="#000"/>
<rect x="1118" y="347" width="1" height="6" fill="#fff"/>
<rect x="1122" y="301" width="1" height="36" fill="#000"/>
<rect x="1121" y="305" width="3" height="32" fill="#000"/>
<rect x="1122" y="306" width="1" height="30" fill="#fff"/>
<rect x="1126" y="295" width="1" height="25" fill="#000"/>
<rect x="1125" y="298" width="3" height="4" fill="#000"/>
<rect x="1130" y="294" width="1" height="20" fill="#000"/>
<rect x="1129" y="297" width="3" height="16" fill="#000"/>
<rect x="1135" y="307" width="1" height="16" fill="#000"/>
<rect x="1134" y="314" width="3" height="5" fill="#000"/>
<rect x="1139" y="306" width="1" height="14" fill="#000"/>
<rect x="1138" y="308" width="3" height="12" fill="#000"/>
<rect x="1139" y="309" width="1" height="10" fill="#fff"/>
<rect x="1143" y="305" width="1" height="11" fill="#000"/>
<rect x="1142" y="305" width="3" height="10" fill="#000"/>
<rect x="1147" y="306" width="1" height="9" fill="#000"/>
<rect x="1146" y="312" width="3" height="1" fill="#000"/>
<rect x="1152" y="308" width="1" height="26" fill="#000"/>
<rect x="1151" y="316" width="3" height="11" fill="#000"/>
<rect x="1156" y="317" width="1" height="13" fill="#000"/>
<rect x="1155" y="318" width="3" height="10" fill="#000"/>
<rect x="1156" y="319" width="1" height="8" fill="#fff"/>
<rect x="1160" y="311" width="1" height="27" fill="#000"/>
<rect x="1159" y="311" width="3" height="23" fill="#000"/>
<rect x="1164" y="312" width="1" height="31" fill="#000"/>
<rect x="1163" y="334" width="3" height="3" fill="#000"/>
<rect x="1164" y="335" width="1" height="1" fill="#fff"/>
<rect x="1169" y="331" width="1" height="12" fill="#000"/>
<rect x="1168" y="335" width="3" height="6" fill="#000"/>
<rect x="1173" y="341" width="1" height="9" fill="#000"/>
<rect x="1172" y="345" width="3" height="1" fill="#000"/>
<rect x="1177" y="337" width="1" height="31" fill="#000"/>
<rect x="1176" y="342" width="3" height="25" fill="#000"/>
<rect x="1181" y="354" width="1" height="14" fill="#000"/>
<rect x="1180" y="358" width="3" height="10" fill="#000"/>
<rect x="1181" y="359" width="1" height="8" fill="#fff"/>
<rect x="1186" y="359" width="1" height="22" fill="#000"/>
<rect x="1185" y="364" width="3" height="12" fill="#000"/>
<rect x="1190" y="365" width="1" height="25" fill="#000"/>
<rect x="1189" y="367" width="3" height="13" fill="#000"/>
<rect x="1190" y="368" width="1" height="11" fill="#fff"/>
<rect x="1194" y="370" width="1" height="12" fill="#000"/>
<rect x="1193" y="372" width="3" height="7" fill="#000"/>
<rect x="1198" y="365" width="1" height="15" fill="#000"/>
<rect x="1197" y="373" width="3" height="1" fill="#000"/>
<rect x="1203" y="353" width="1" height="18" fill="#000"/>
<rect x="1202" y="355" width="3" height="14" fill="#000"/>
<rect x="1203" y="356" width="1" height="12" fill="#fff"/>
<rect x="1207" y="338" width="1" height="21" fill="#000"/>
<rect x="1206" y="349" width="3" height="2" fill="#000"/>
<rect x="1211" y="330" width="1" height="26" fill="#000"/>
<rect x="1210" y="336" width="3" height="12" fill="#000"/>
<rect x="1211" y="337" width="1" height="10" fill="#fff"/>
<rect x="1215" y="325" width="1" height="14" fill="#000"/>
<rect x="1214" y="326" width="3" height="6" fill="#000"/>
<rect x="1220" y="323" width="1" height="11" fill="#000"/>
<rect x="1219" y="331" width="3" height="1" fill="#000"/>
<rect x="1224" y="327" width="1" height="9" fill="#000"/>
<rect x="1223" y="330" width="3" height="2" fill="#000"/>
<rect x="1228" y="326" width="1" height="10" fill="#000"/>
<rect x="1227" y="330" width="3" height="3" fill="#000"/>
<rect x="1228" y="331" width="1" height="1" fill="#fff"/>
<rect x="1232" y="329" width="1" height="13" fill="#000"/>
<rect x="1231" y="337" width="3" height="1" fill="#000"/>
<rect x="1237" y="331" width="1" height="12" fill="#000"/>
<rect x="1236" y="337" width="3" height="5" fill="#000"/>
<rect x="1237" y="338" width="1" height="3" fill="#fff"/>
<rect x="1241" y="305" width="1" height="25" fill="#000"/>
<rect x="1240" y="309" width="3" height="20" fill="#000"/>
<rect x="1241" y="310" width="1" height="18" fill="#fff"/>
<rect x="1245" y="300" width="1" height="14" fill="#000"/>
<rect x="1244" y="303" width="3" height="4" fill="#000"/>
<rect x="1245" y="304" width="1" height="2" fill="#fff"/>
<rect x="1249" y="299" width="1" height="14" fill="#000"/>
<rect x="1248" y="303" width="3" height="5" fill="#000"/>
<rect x="1254" y="304" width="1" height="36" fill="#000"/>
<rect x="1253" y="317" width="3" height="13" fill="#000"/>
<rect x="1258" y="307" width="1" height="31" fill="#000"/>
<rect x="1257" y="310" width="3" height="17" fill="#000"/>
<rect x="1258" y="311" width="1" height="15" fill="#fff"/>
<rect x="1262" y="306" width="1" height="20" fill="#000"/>
<rect x="1261" y="308" width="3" height="8" fill="#000"/>
<rect x="1262" y="309" width="1" height="6" fill="#fff"/>
<rect x="1267" y="288" width="1" height="21" fill="#000"/>
<rect x="1266" y="291" width="3" height="17" fill="#000"/>
<rect x="1267" y="292" width="1" height="15" fill="#fff"/>
<rect x="1271" y="270" width="1" height="27" fill="#000"/>
<rect x="1270" y="273" width="3" height="21" fill="#000"/>
<rect x="1271" y="274" width="1" height="19" fill="#fff"/>
<rect x="1275" y="270" width="1" height="11" fill="#000"/>
<rect x="1274" y="272" width="3" height="9" fill="#000"/>
<rect x="1279" y="272" width="1" height="25" fill="#000"/>
<rect x="1278" y="290" width="3" height="2" fill="#000"/>
<rect x="1284" y="274" width="1" height="14" fill="#000"/>
<rect x="1283" y="281" width="3" height="4" fill="#000"/>
<rect x="1288" y="274" width="1" height="16" fill="#000"/>
<rect x="1287" y="281" width="3" height="5" fill="#000"/>
<rect x="1288" y="282" width="1" height="3" fill="#fff"/>
<rect x="1292" y="253" width="1" height="25" fill="#000"/>
<rect x="1291" y="253" width="3" height="23" fill="#000"/>
<rect x="1292" y="254" width="1" height="21" fill="#fff"/>
<rect x="1296" y="250" width="1" height="19" fill="#000"/>
<rect x="1295" y="251" width="3" height="16" fill="#000"/>
<rect x="1301" y="233" width="1" height="40" fill="#000"/>
<rect x="1300" y="249" width="3" height="20" fill="#000"/>
<rect x="1301" y="250" width="1" height="18" fill="#fff"/>
<rect x="1305" y="227" width="1" height="18" fill="#000"/>
<rect x="1304" y="228" width="3" height="16" fill="#000"/>
<rect x="1305" y="229" width="1" height="14" fill="#fff"/>
<rect x="1309" y="231" width="1" height="18" fill="#000"/>
<rect x="1308" y="235" width="3" height="1" fill="#000"/>
<rect x="1313" y="232" width="1" height="15" fill="#000"/>
<rect x="1312" y="242" width="3" height="3" fill="#000"/>
<rect x="1313" y="243" width="1" height="1" fill="#fff"/>
<rect x="1318" y="240" width="1" height="13" fill="#000"/>
<rect x="1317" y="240" width="3" height="4" fill="#000"/>
<rect x="1318" y="241" width="1" height="2" fill="#fff"/>
<rect x="1322" y="218" width="1" height="22" fill="#000"/>
<rect x="1321" y="218" width="3" height="17" fill="#000"/>
<rect x="1322" y="219" width="1" height="15" fill="#fff"/>
<rect x="1326" y="212" width="1" height="16" fill="#000"/>
<rect x="1325" y="216" width="3" height="5" fill="#000"/>
<rect x="1330" y="201" width="1" height="16" fill="#000"/>
<rect x="1329" y="210" width="3" height="4" fill="#000"/>
<rect x="1330" y="211" width="1" height="2" fill="#fff"/>
<rect x="1335" y="204" width="1" height="17" fill="#000"/>
<rect x="1334" y="213" width="3" height="4" fill="#000"/>
<rect x="1339" y="204" width="1" height="17" fill="#000"/>
<rect x="1338" y="208" width="3" height="5" fill="#000"/>
<rect x="1339" y="209" width="1" height="3" fill="#fff"/>
<rect x="1343" y="211" width="1" height="19" fill="#000"/>
<rect x="1342" y="212" width="3" height="8" fill="#000"/>
<rect x="1343" y="213" width="1" height="6" fill="#fff"/>
<rect x="1347" y="202" width="1" height="25" fill="#000"/>
<rect x="1346" y="217" width="3" height="5" fill="#000"/>
<rect x="1347" y="218" width="1" height="3" fill="#fff"/>
<rect x="1352" y="210" width="1" height="19" fill="#000"/>
<rect x="1351" y="217" width="3" height="10" fill="#000"/>
<rect x="1352" y="218" width="1" height="8" fill="#fff"/>
<rect x="1356" y="198" width="1" height="30" fill="#000"/>
<rect x="1355" y="206" width="3" height="18" fill="#000"/>
<rect x="1356" y="207" width="1" height="16" fill="#fff"/>
<rect x="1360" y="207" width="1" height="17" fill="#000"/>
<rect x="1359" y="211" width="3" height="3" fill="#000"/>
<rect x="1364" y="203" width="1" height="9" fill="#000"/>
<rect x="1363" y="206" width="3" height="5" fill="#000"/>
<rect x="1369" y="208" width="1" height="17" fill="#000"/>
<rect x="1368" y="218" width="3" height="2" fill="#000"/>
<rect x="1373" y="186" width="1" height="28" fill="#000"/>
<rect x="1372" y="190" width="3" height="21" fill="#000"/>
<rect x="1373" y="191" width="1" height="19" fill="#fff"/>
<rect x="1377" y="188" width="1" height="13" fill="#000"/>
<rect x="1376" y="193" width="3" height="8" fill="#000"/>
<rect x="1381" y="187" width="1" height="21" fill="#000"/>
<rect x="1380" y="200" width="3" height="8" fill="#000"/>
<rect x="1386" y="188" width="1" height="17" fill="#000"/>
<rect x="1385" y="202" width="3" height="3" fill="#000"/>
<rect x="1386" y="203" width="1" height="1" fill="#fff"/>
<rect x="1390" y="187" width="1" height="14" fill="#000"/>
<rect x="1389" y="197" width="3" height="2" fill="#000"/>
<rect x="1394" y="186" width="1" height="15" fill="#000"/>
<rect x="1393" y="190" width="3" height="5" fill="#000"/>
<rect x="1398" y="190" width="1" height="18" fill="#000"/>
<rect x="1397" y="190" width="3" height="12" fill="#000"/>
<rect x="1403" y="186" width="1" height="22" fill="#000"/>
<rect x="1402" y="193" width="3" height="12" fill="#000"/>
<rect x="1403" y="194" width="1" height="10" fill="#fff"/>
<rect x="1407" y="186" width="1" height="13" fill="#000"/>
<rect x="1406" y="196" width="3" height="2" fill="#000"/>
<rect x="1411" y="188" width="1" height="84" fill="#000"/>
<rect x="1410" y="195" width="3" height="18" fill="#000"/>
<rect x="1411" y="196" width="1" height="16" fill="#fff"/>
<rect x="1415" y="186" width="1" height="20" fill="#000"/>
<rect x="1414" y="190" width="3" height="16" fill="#000"/>
<rect x="1420" y="186" width="1" height="19" fill="#000"/>
<rect x="1419" y="189" width="3" height="14" fill="#000"/>
<rect x="1420" y="190" width="1" height="12" fill="#fff"/>
<rect x="1424" y="187" width="1" height="11" fill="#000"/>
<rect x="1423" y="190" width="3" height="6" fill="#000"/>
<rect x="1428" y="189" width="1" height="26" fill="#000"/>
<rect x="1427" y="192" width="3" height="22" fill="#000"/>
<rect x="1433" y="204" width="1" height="21" fill="#000"/>
<rect x="1432" y="216" width="3" height="3" fill="#000"/>
<rect x="1437" y="209" width="1" height="12" fill="#000"/>
<rect x="1436" y="214" width="3" height="3" fill="#000"/>
<rect x="1437" y="215" width="1" height="1" fill="#fff"/>
<rect x="1441" y="212" width="1" height="15" fill="#000"/>
<rect x="1440" y="215" width="3" height="3" fill="#000"/>
<rect x="1441" y="216" width="1" height="1" fill="#fff"/>
<polyline points="7.5,717.3 11.5,714.2 15.5,713.5 19.5,709.4 24.5,714.2 28.5,716.1 32.5,701.4 36.5,708.4 41.5,713.5 45.5,709.6 49.5,715.2 53.5,712.7 58.5,719.6 62.5,718.4 66.5,719.9 70.5,731.2 75.5,737.1 79.5,743.6 83.5,743.9 87.5,745.0 92.5,744.4 96.5,757.3 100.5,746.2 105.5,756.7 109.5,747.1 113.5,748.2 117.5,749.7 122.5,763.4 126.5,753.1 130.5,742.0 134.5,734.9 139.5,718.9 143.5,716.3 147.5,718.7 151.5,709.3 156.5,708.9 160.5,724.0 164.5,724.6 168.5,717.4 173.5,731.9 177.5,723.7 181.5,703.7 185.5,713.7 190.5,749.0 194.5,759.9 198.5,759.4 202.5,781.9 207.5,789.2 211.5,795.3 215.5,798.9 219.5,799.7 224.5,803.4 228.5,806.3 232.5,814.3 236.5,814.9 241.5,810.0 245.5,819.5 249.5,804.0 253.5,810.5 258.5,811.1 262.5,813.0 266.5,810.1 271.5,795.7 275.5,798.6 279.5,770.8 283.5,751.4 288.5,747.1 292.5,759.7 296.5,763.0 300.5,763.0 305.5,774.3 309.5,775.3 313.5,776.8 317.5,762.2 322.5,746.1 326.5,748.9 330.5,739.3 334.5,745.6 339.5,754.1 343.5,754.1 347.5,746.9 351.5,746.1 356.5,752.9 360.5,750.6 364.5,742.8 368.5,746.7 373.5,740.2 377.5,725.5 381.5,704.4 385.5,713.4 390.5,720.2 394.5,726.4 398.5,719.4 402.5,724.3 407.5,715.9 411.5,721.9 415.5,723.2 419.5,731.9 424.5,733.9 428.5,733.2 432.5,715.6 437.5,716.7 441.5,712.3 445.5,720.7 449.5,722.7 454.5,705.9 458.5,691.0 462.5,687.2 466.5,707.1 471.5,698.4 475.5,701.6 479.5,692.6 483.5,698.1 488.5,687.1 492.5,686.8 496.5,704.0 500.5,706.7 505.5,726.5 509.5,722.4 513.5,725.1 517.5,712.4 522.5,720.3 526.5,721.7 530.5,726.3 534.5,729.1 539.5,725.3 543.5,737.3 547.5,734.7 551.5,739.0 556.5,729.3 560.5,729.5 564.5,732.1 568.5,720.1 573.5,726.5 577.5,723.2 581.5,729.6 585.5,730.1 590.5,738.8 594.5,719.8 598.5,715.3 603.5,716.0 607.5,712.6 611.5,719.4 615.5,728.0 620.5,727.6 624.5,727.3 628.5,723.0 632.5,726.6 637.5,739.1 641.5,748.6 645.5,744.0 649.5,764.1 654.5,773.3 658.5,774.1 662.5,758.0 666.5,752.0 671.5,742.9 675.5,747.6 679.5,752.1 683.5,745.1 688.5,721.9 692.5,724.4 696.5,736.5 700.5,731.4 705.5,736.1 709.5,735.7 713.5,727.1 717.5,736.5 722.5,734.5 726.5,725.0 730.5,730.7 734.5,724.4 739.5,723.7 743.5,718.1 747.5,743.6 751.5,751.8 756.5,741.7 760.5,735.9 764.5,736.7 769.5,747.3 773.5,743.2 777.5,740.9 781.5,750.8 786.5,748.3 790.5,750.1 794.5,747.4 798.5,758.1 803.5,768.6 807.5,782.5 811.5,782.7 815.5,777.0 820.5,775.3 824.5,780.0 828.5,741.1 832.5,744.1 837.5,742.4 841.5,741.0 845.5,742.9 849.5,732.8 854.5,710.9 858.5,710.0 862.5,699.8 866.5,701.0 871.5,708.0 875.5,727.7 879.5,730.6 883.5,737.0 888.5,727.5 892.5,720.2 896.5,716.8 900.5,725.3 905.5,717.3 909.5,691.4 913.5,698.4 917.5,716.6 922.5,727.1 926.5,725.6 930.5,716.7 935.5,715.4 939.5,695.0 943.5,708.6 947.5,710.2 952.5,707.2 956.5,670.9 960.5,663.9 964.5,662.6 969.5,676.1 973.5,673.5 977.5,667.4 981.5,669.0 986.5,664.8 990.5,675.7 994.5,681.5 998.5,677.3 1003.5,664.2 1007.5,688.0 1011.5,695.0 1015.5,701.9 1020.5,713.9 1024.5,698.1 1028.5,692.4 1032.5,690.2 1037.5,690.2 1041.5,698.1 1045.5,697.5 1049.5,699.7 1054.5,713.1 1058.5,729.0 1062.5,714.2 1066.5,709.1 1071.5,711.8 1075.5,708.2 1079.5,710.2 1083.5,721.9 1088.5,710.3 1092.5,698.1 1096.5,692.9 1101.5,709.4 1105.5,711.1 1109.5,717.2 1113.5,726.4 1118.5,727.2 1122.5,700.7 1126.5,698.7 1130.5,708.5 1135.5,713.5 1139.5,706.9 1143.5,712.6 1147.5,711.1 1152.5,723.8 1156.5,717.3 1160.5,730.3 1164.5,730.8 1169.5,736.0 1173.5,739.3 1177.5,755.1 1181.5,746.5 1186.5,757.5 1190.5,749.2 1194.5,756.4 1198.5,750.9 1203.5,734.6 1207.5,731.3 1211.5,719.7 1215.5,716.3 1220.5,716.1 1224.5,716.7 1228.5,715.0 1232.5,722.3 1237.5,722.3 1241.5,699.0 1245.5,695.1 1249.5,700.7 1254.5,724.4 1258.5,709.1 1262.5,707.7 1267.5,696.6 1271.5,686.7 1275.5,694.2 1279.5,705.0 1284.5,700.1 1288.5,698.1 1292.5,683.0 1296.5,696.2 1301.5,687.4 1305.5,678.5 1309.5,685.5 1313.5,691.3 1318.5,690.8 1322.5,680.3 1326.5,682.9 1330.5,678.3 1335.5,685.2 1339.5,681.1 1343.5,684.9 1347.5,691.1 1352.5,691.1 1356.5,684.6 1360.5,694.2 1364.5,692.0 1369.5,703.0 1373.5,684.4 1377.5,696.2 1381.5,704.2 1386.5,700.7 1390.5,696.9 1394.5,695.7 1398.5,703.9 1403.5,697.7 1407.5,703.9 1411.5,701.6 1415.5,714.1 1420.5,700.8 1424.5,708.5 1428.5,727.6 1433.5,731.5 1437.5,726.7 1441.5,728.0" fill="none" stroke="#8E1599" stroke-width="1.1" stroke-linejoin="round" stroke-linecap="round"/>
<circle cx="1276.1" cy="636.9" r="12.4" fill="#fff" stroke="#2196F3" stroke-width="1.2"/>
<text transform="translate(1272.19,639.90) scale(0.1034,0.1252)" font-size="100" font-weight="normal" fill="#2196F3">D</text>
<circle cx="160.8" cy="636.9" r="12.4" fill="#fff" stroke="#EC5F6F" stroke-width="1.2"/>
<circle cx="381.9" cy="636.9" r="12.4" fill="#fff" stroke="#EC5F6F" stroke-width="1.2"/>
<circle cx="649.9" cy="636.9" r="12.4" fill="#fff" stroke="#EC5F6F" stroke-width="1.2"/>
<circle cx="909.9" cy="636.9" r="12.4" fill="#fff" stroke="#EC5F6F" stroke-width="1.2"/>
<circle cx="1254.8" cy="636.9" r="12.4" fill="#fff" stroke="#EC5F6F" stroke-width="1.2"/>
<circle cx="1463.0" cy="636.9" r="12.4" fill="#fff" stroke="#EC5F6F" stroke-width="1.2"/>
<text transform="translate(157.26,639.90) scale(0.1079,0.1252)" font-size="100" font-weight="normal" fill="#E23A4E">E</text>
<text transform="translate(378.36,639.90) scale(0.1079,0.1252)" font-size="100" font-weight="normal" fill="#E23A4E">E</text>
<text transform="translate(646.36,639.90) scale(0.1079,0.1252)" font-size="100" font-weight="normal" fill="#E23A4E">E</text>
<text transform="translate(906.36,639.90) scale(0.1079,0.1252)" font-size="100" font-weight="normal" fill="#E23A4E">E</text>
<text transform="translate(1251.26,639.90) scale(0.1079,0.1252)" font-size="100" font-weight="normal" fill="#E23A4E">E</text>
<text transform="translate(1459.46,639.90) scale(0.1079,0.1252)" font-size="100" font-weight="normal" fill="#E23A4E">E</text>
<rect x="4" y="9" width="1615" height="1" fill="#4F5360"/>
<rect x="4" y="858" width="1615" height="1" fill="#4F5360"/>
<rect x="4" y="9" width="1" height="850" fill="#4F5360"/>
<rect x="1618" y="9" width="1" height="850" fill="#4F5360"/>
<rect x="1564" y="9" width="1" height="850" fill="#4F5360"/>
<rect x="4" y="652" width="1615" height="1" fill="#4F5360"/>
<rect x="4" y="830" width="1615" height="1" fill="#4F5360"/>
<rect x="1565" y="18" width="4" height="1" fill="#4F5360"/>
<rect x="1565" y="51" width="4" height="1" fill="#4F5360"/>
<rect x="1565" y="85" width="4" height="1" fill="#4F5360"/>
<rect x="1565" y="119" width="4" height="1" fill="#4F5360"/>
<rect x="1565" y="153" width="4" height="1" fill="#4F5360"/>
<rect x="1565" y="187" width="4" height="1" fill="#4F5360"/>
<rect x="1565" y="221" width="4" height="1" fill="#4F5360"/>
<rect x="1565" y="254" width="4" height="1" fill="#4F5360"/>
<rect x="1565" y="288" width="4" height="1" fill="#4F5360"/>
<rect x="1565" y="322" width="4" height="1" fill="#4F5360"/>
<rect x="1565" y="356" width="4" height="1" fill="#4F5360"/>
<rect x="1565" y="390" width="4" height="1" fill="#4F5360"/>
<rect x="1565" y="423" width="4" height="1" fill="#4F5360"/>
<rect x="1565" y="457" width="4" height="1" fill="#4F5360"/>
<rect x="1565" y="491" width="4" height="1" fill="#4F5360"/>
<rect x="1565" y="525" width="4" height="1" fill="#4F5360"/>
<rect x="1565" y="559" width="4" height="1" fill="#4F5360"/>
<rect x="1565" y="593" width="4" height="1" fill="#4F5360"/>
<rect x="1565" y="626" width="4" height="1" fill="#4F5360"/>
<rect x="1565" y="660" width="4" height="1" fill="#4F5360"/>
<rect x="1565" y="705" width="4" height="1" fill="#4F5360"/>
<rect x="1565" y="751" width="4" height="1" fill="#4F5360"/>
<rect x="1565" y="796" width="4" height="1" fill="#4F5360"/>
<text x="1574.0" y="21.7" font-size="11" font-weight="normal" fill="#4E525D" text-anchor="start">240.00</text>
<text x="1574.0" y="54.7" font-size="11" font-weight="normal" fill="#4E525D" text-anchor="start">230.00</text>
<text x="1574.0" y="88.7" font-size="11" font-weight="normal" fill="#4E525D" text-anchor="start">220.00</text>
<text x="1574.0" y="122.7" font-size="11" font-weight="normal" fill="#4E525D" text-anchor="start">210.00</text>
<text x="1574.0" y="156.7" font-size="11" font-weight="normal" fill="#4E525D" text-anchor="start">200.00</text>
<text x="1574.0" y="190.7" font-size="11" font-weight="normal" fill="#4E525D" text-anchor="start">190.00</text>
<text x="1574.0" y="224.7" font-size="11" font-weight="normal" fill="#4E525D" text-anchor="start">180.00</text>
<text x="1574.0" y="257.7" font-size="11" font-weight="normal" fill="#4E525D" text-anchor="start">170.00</text>
<text x="1574.0" y="291.7" font-size="11" font-weight="normal" fill="#4E525D" text-anchor="start">160.00</text>
<text x="1574.0" y="325.7" font-size="11" font-weight="normal" fill="#4E525D" text-anchor="start">150.00</text>
<text x="1574.0" y="359.7" font-size="11" font-weight="normal" fill="#4E525D" text-anchor="start">140.00</text>
<text x="1574.0" y="393.7" font-size="11" font-weight="normal" fill="#4E525D" text-anchor="start">130.00</text>
<text x="1574.0" y="426.7" font-size="11" font-weight="normal" fill="#4E525D" text-anchor="start">120.00</text>
<text x="1574.0" y="460.7" font-size="11" font-weight="normal" fill="#4E525D" text-anchor="start">110.00</text>
<text x="1574.0" y="494.7" font-size="11" font-weight="normal" fill="#4E525D" text-anchor="start">100.00</text>
<text x="1574.0" y="528.7" font-size="11" font-weight="normal" fill="#4E525D" text-anchor="start">90.00</text>
<text x="1574.0" y="562.7" font-size="11" font-weight="normal" fill="#4E525D" text-anchor="start">80.00</text>
<text x="1574.0" y="596.7" font-size="11" font-weight="normal" fill="#4E525D" text-anchor="start">70.00</text>
<text x="1574.0" y="629.7" font-size="11" font-weight="normal" fill="#4E525D" text-anchor="start">60.00</text>
<text x="1574.0" y="663.7" font-size="11" font-weight="normal" fill="#4E525D" text-anchor="start">80.00</text>
<text x="1574.0" y="708.7" font-size="11" font-weight="normal" fill="#4E525D" text-anchor="start">60.00</text>
<text x="1574.0" y="754.7" font-size="11" font-weight="normal" fill="#4E525D" text-anchor="start">40.00</text>
<text x="1574.0" y="799.7" font-size="11" font-weight="normal" fill="#4E525D" text-anchor="start">20.00</text>
<rect x="1577.5" y="16.5" width="27" height="17" rx="3.5" fill="#fff" stroke="#D5D9E2" stroke-width="1"/>
<text transform="translate(1580.75,28.80) scale(0.0964,0.1081)" font-size="100" font-weight="normal" fill="#6A6E78">GBX</text>
<rect x="1564" y="206" width="48" height="17" fill="#fff"/>
<rect x="1565" y="214" width="4" height="1" fill="#000"/>
<text x="1574.0" y="218.6" font-size="11" font-weight="normal" fill="#111" text-anchor="start">181.98</text>
<path d="M1564 152h46a2 2 0 0 1 2 2v13a2 2 0 0 1 -2 2h-46z" fill="#4CAF50"/>
<rect x="1564" y="160" width="5" height="1" fill="#fff"/>
<path d="M1564 177h46a2 2 0 0 1 2 2v13a2 2 0 0 1 -2 2h-46z" fill="#00FF00"/>
<rect x="1564" y="185" width="5" height="1" fill="#000"/>
<path d="M1564 223h46a2 2 0 0 1 2 2v13a2 2 0 0 1 -2 2h-46z" fill="#0000FF"/>
<rect x="1564" y="231" width="5" height="1" fill="#fff"/>
<path d="M1564 261h46a2 2 0 0 1 2 2v13a2 2 0 0 1 -2 2h-46z" fill="#2196F3"/>
<rect x="1564" y="269" width="5" height="1" fill="#fff"/>
<text x="1574.0" y="164.7" font-size="11" font-weight="bold" fill="#fff" text-anchor="start">198.04</text>
<text x="1574.0" y="189.7" font-size="11" font-weight="normal" fill="#000" text-anchor="start">190.54</text>
<text x="1574.0" y="235.7" font-size="11" font-weight="bold" fill="#fff" text-anchor="start">177.00</text>
<text x="1574.0" y="273.7" font-size="11" font-weight="bold" fill="#fff" text-anchor="start">165.58</text>
<rect x="32" y="831" width="1" height="4" fill="#4F5360"/>
<rect x="126" y="831" width="1" height="4" fill="#4F5360"/>
<rect x="211" y="831" width="1" height="4" fill="#4F5360"/>
<rect x="305" y="831" width="1" height="4" fill="#4F5360"/>
<rect x="390" y="831" width="1" height="4" fill="#4F5360"/>
<rect x="471" y="831" width="1" height="4" fill="#4F5360"/>
<rect x="564" y="831" width="1" height="4" fill="#4F5360"/>
<rect x="662" y="831" width="1" height="4" fill="#4F5360"/>
<rect x="747" y="831" width="1" height="4" fill="#4F5360"/>
<rect x="841" y="831" width="1" height="4" fill="#4F5360"/>
<rect x="935" y="831" width="1" height="4" fill="#4F5360"/>
<rect x="1024" y="831" width="1" height="4" fill="#4F5360"/>
<rect x="1113" y="831" width="1" height="4" fill="#4F5360"/>
<rect x="1198" y="831" width="1" height="4" fill="#4F5360"/>
<rect x="1284" y="831" width="1" height="4" fill="#4F5360"/>
<rect x="1381" y="831" width="1" height="4" fill="#4F5360"/>
<rect x="1467" y="831" width="1" height="4" fill="#4F5360"/>
<rect x="1547" y="831" width="1" height="4" fill="#4F5360"/>
<text x="32.3" y="846.8" font-size="11" font-weight="normal" fill="#3A3E49" text-anchor="middle" stroke="#3A3E49" stroke-width="0.35">2020</text>
<text x="126.3" y="846.8" font-size="11" font-weight="normal" fill="#4E525D" text-anchor="middle">Feb</text>
<text x="211.3" y="846.8" font-size="11" font-weight="normal" fill="#4E525D" text-anchor="middle">Mar</text>
<text x="305.3" y="846.8" font-size="11" font-weight="normal" fill="#4E525D" text-anchor="middle">Apr</text>
<text x="390.3" y="846.8" font-size="11" font-weight="normal" fill="#4E525D" text-anchor="middle">May</text>
<text x="471.3" y="846.8" font-size="11" font-weight="normal" fill="#4E525D" text-anchor="middle">Jun</text>
<text x="564.3" y="846.8" font-size="11" font-weight="normal" fill="#4E525D" text-anchor="middle">Jul</text>
<text x="662.3" y="846.8" font-size="11" font-weight="normal" fill="#4E525D" text-anchor="middle">Aug</text>
<text x="747.3" y="846.8" font-size="11" font-weight="normal" fill="#4E525D" text-anchor="middle">Sep</text>
<text x="841.3" y="846.8" font-size="11" font-weight="normal" fill="#4E525D" text-anchor="middle">Oct</text>
<text x="935.3" y="846.8" font-size="11" font-weight="normal" fill="#4E525D" text-anchor="middle">Nov</text>
<text x="1024.3" y="846.8" font-size="11" font-weight="normal" fill="#4E525D" text-anchor="middle">Dec</text>
<text x="1113.3" y="846.8" font-size="11" font-weight="normal" fill="#3A3E49" text-anchor="middle" stroke="#3A3E49" stroke-width="0.35">2021</text>
<text x="1198.3" y="846.8" font-size="11" font-weight="normal" fill="#4E525D" text-anchor="middle">Feb</text>
<text x="1284.3" y="846.8" font-size="11" font-weight="normal" fill="#4E525D" text-anchor="middle">Mar</text>
<text x="1381.3" y="846.8" font-size="11" font-weight="normal" fill="#4E525D" text-anchor="middle">Apr</text>
<text x="1467.3" y="846.8" font-size="11" font-weight="normal" fill="#4E525D" text-anchor="middle">May</text>
<text x="1547.3" y="846.8" font-size="11" font-weight="normal" fill="#4E525D" text-anchor="middle">Jun</text>
<text transform="translate(13.20,30.80) scale(0.1117,0.1237)" font-size="100" font-weight="bold" fill="#3F434E">BARCLAYS PLC ORD 25P, 1D, LSE</text>
<text transform="translate(12.94,47.80) scale(0.1234,0.1237)" font-size="100" font-weight="normal" fill="#4B4F5A">EMA (50, close, 0)</text>
<text transform="translate(12.94,64.90) scale(0.1231,0.1266)" font-size="100" font-weight="normal" fill="#4B4F5A">EMA (100, close, 0)</text>
<text transform="translate(12.93,673.90) scale(0.1182,0.1223)" font-size="100" font-weight="normal" fill="#4B4F5A">RSI (14, close)</text>
<text y="73.8" font-size="45.65" fill="#fff" stroke="#fff" stroke-width="0.35" stroke-linejoin="round"><tspan x="262.77" textLength="31.23" lengthAdjust="spacingAndGlyphs">C</tspan><tspan x="298.00" textLength="10.67" lengthAdjust="spacingAndGlyphs">I</tspan><tspan x="311.42" textLength="26.63" lengthAdjust="spacingAndGlyphs">T</tspan><tspan x="340.03" textLength="28.63" lengthAdjust="spacingAndGlyphs">Y</tspan></text>
<text y="73.8" font-size="45.65" fill="#F8EC17" stroke="#F8EC17" stroke-width="0.35" stroke-linejoin="round"><tspan x="385.40" textLength="10.67" lengthAdjust="spacingAndGlyphs">I</tspan><tspan x="398.83" textLength="33.89" lengthAdjust="spacingAndGlyphs">N</tspan><tspan x="434.73" textLength="33.89" lengthAdjust="spacingAndGlyphs">D</tspan><tspan x="470.43" textLength="27.93" lengthAdjust="spacingAndGlyphs">E</tspan><tspan x="502.26" textLength="27.17" lengthAdjust="spacingAndGlyphs">X</tspan></text>
<clipPath id="ct"><rect x="0" y="0" width="1625" height="4"/></clipPath>
<g clip-path="url(#ct)" fill="#333" font-size="15">
<text x="23.5" y="-0.6">_</text><text x="88.5" y="-0.2">,</text><text x="208" y="-0.2">(</text><text x="254" y="-0.2">)</text><text x="162.5" y="0.3" fill="#F9A0A0">.</text>
</g>
<g fill="#2196F3"><circle cx="15.5" cy="876" r="7"/><circle cx="9.5" cy="879" r="5"/><circle cx="23" cy="878.5" r="5.2"/></g><g fill="#fff" fill-opacity="0.85"><circle cx="13.8" cy="875.6" r="1.2"/><path d="M11.5 878l2.3-2.6 2.3 2.6z"/><path d="M24.6 875.2l1 .8-1.6 2-1-.8z"/></g>
<text transform="translate(31.80,882.40) scale(0.1291,0.1508)" font-size="100" font-weight="normal" fill="#22252E">TradingView</text></svg>
</body></html>
